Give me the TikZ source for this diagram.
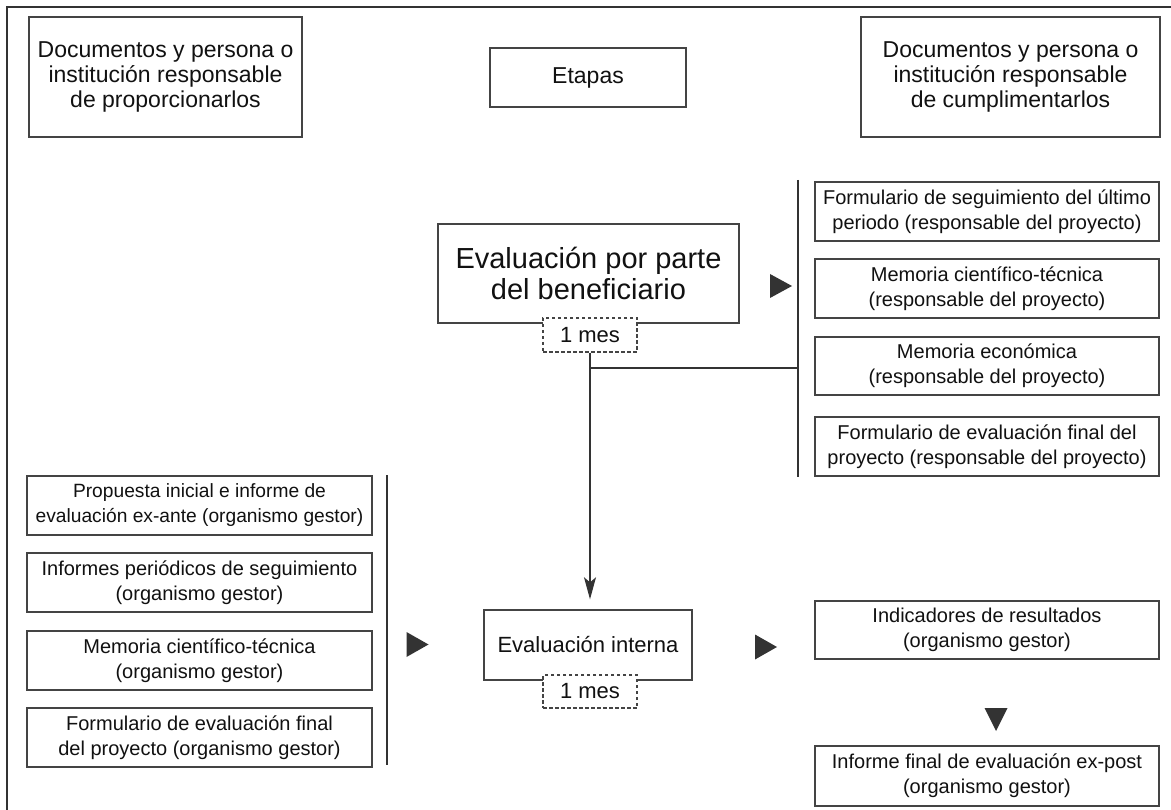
\documentclass[tikz,border=0pt]{standalone}
\usepackage{fontspec}
\setmainfont{Liberation Sans}
\usetikzlibrary{arrows.meta,calc}
\definecolor{linec}{HTML}{333333}
\definecolor{boxc}{HTML}{444444}
\definecolor{txtc}{HTML}{111111}
\begin{document}
\begin{tikzpicture}[x=1pt,y=-1pt,
  box/.style={draw=boxc, line width=1.4pt, fill=white, align=center, inner sep=0pt, text=txtc},
  small/.style={box, font=\fontsize{20}{25}\selectfont, minimum width=344pt, minimum height=59pt},
  head/.style={box, font=\fontsize{23}{25}\selectfont},
  dbox/.style={draw=boxc, line width=1.1pt, dash pattern=on 3.5pt off 2.5pt, fill=white, inner sep=0pt,
     minimum width=94pt, minimum height=34pt, font=\fontsize{22}{24}\selectfont, text=txtc},
  conn/.style={draw=linec, line width=1.3pt},
  tri/.style={fill=linec}
]
\useasboundingbox (0,0) rectangle (1171,810);
% partial outer frame
\coordinate (fbl) at (7,810);
\coordinate (ftl) at (7,7);
\coordinate (ftr) at (1171,7);
\draw[draw=linec, line width=1.4pt] (fbl) -- (ftl) -- (ftr);

% headers
\node[head, minimum width=273pt, minimum height=120pt] (h1) at (165.5,77) {Documentos y persona o\\institución responsable\\de proporcionarlos};
\node[head, minimum width=196pt, minimum height=59pt] (h2) at (588,77.5) {Etapas};
\node[head, minimum width=299pt, minimum height=120pt] (h3) at (1010.5,77) {Documentos y persona o\\institución responsable\\de cumplimentarlos};

% stage 1
\node[box, font=\fontsize{29}{31}\selectfont, minimum width=301pt, minimum height=99pt] (b1) at (588.5,273.5) {Evaluación por parte\\del beneficiario};
\node[dbox] (d1) at (590,335) {1 mes};

% right documents
\node[small] (r1) at (987,211.5) {Formulario de seguimiento del último\\periodo (responsable del proyecto)};
\node[small] (r2) at (987,288.5) {Memoria científico-técnica\\(responsable del proyecto)};
\node[small, minimum height=58pt] (r3) at (987,366) {Memoria económica\\(responsable del proyecto)};
\node[small] (r4) at (987,446.5) {Formulario de evaluación final del\\proyecto (responsable del proyecto)};

% left documents
\node[small, minimum width=345pt, font=\fontsize{19.2}{25}\selectfont] (l1) at (199.5,505.5) {Propuesta inicial e informe de\\evaluación ex-ante (organismo gestor)};
\node[small, minimum width=345pt] (l2) at (199.5,582.5) {Informes periódicos de seguimiento\\(organismo gestor)};
\node[small, minimum width=345pt] (l3) at (199.5,660.5) {Memoria científico-técnica\\(organismo gestor)};
\node[small, minimum width=345pt] (l4) at (199.5,737.5) {Formulario de evaluación final\\del proyecto (organismo gestor)};

% stage 2
\node[box, font=\fontsize{22}{24}\selectfont, minimum width=208pt, minimum height=70pt] (e) at (588,645) {Evaluación interna};
\node[dbox, minimum height=33pt] (d2) at (590,691.5) {1 mes};

% outputs
\node[small, minimum height=58pt] (i1) at (987,630) {Indicadores de resultados\\(organismo gestor)};
\node[small, minimum height=60pt] (i2) at (987,776) {Informe final de evaluación ex-post\\(organismo gestor)};

% brackets
\coordinate (rvt) at (798,180);
\coordinate (rvb) at (798,477);
\draw[conn] (rvt) -- (rvb);
\coordinate (lvt) at (387,475);
\coordinate (lvb) at (387,765);
\draw[conn] (lvt) -- (lvb);

% connectors
\coordinate (br) at (d1.south |- 0,368);
\draw[conn] (br) -- (br -| rvt);
\draw[conn, -{Stealth[length=22pt, width=12pt, inset=5pt]}, shorten >=10pt] (d1.south) -- (e.north -| d1.south);

% triangles
\coordinate (t1) at (781,286);
\fill[tri] ($(t1)+(-11,-12)$) -- ($(t1)+(11,0)$) -- ($(t1)+(-11,12)$) -- cycle;
\coordinate (t2) at (417.5,644.5);
\fill[tri] ($(t2)+(-11,-12.5)$) -- ($(t2)+(11,0)$) -- ($(t2)+(-11,12.5)$) -- cycle;
\coordinate (t3) at (766,647);
\fill[tri] ($(t3)+(-11,-12.5)$) -- ($(t3)+(11,0)$) -- ($(t3)+(-11,12.5)$) -- cycle;
\coordinate (t4) at (996,719.5);
\fill[tri] ($(t4)+(-11.5,-11.5)$) -- ($(t4)+(11.5,-11.5)$) -- ($(t4)+(0,11.5)$) -- cycle;
\end{tikzpicture}
\end{document}
